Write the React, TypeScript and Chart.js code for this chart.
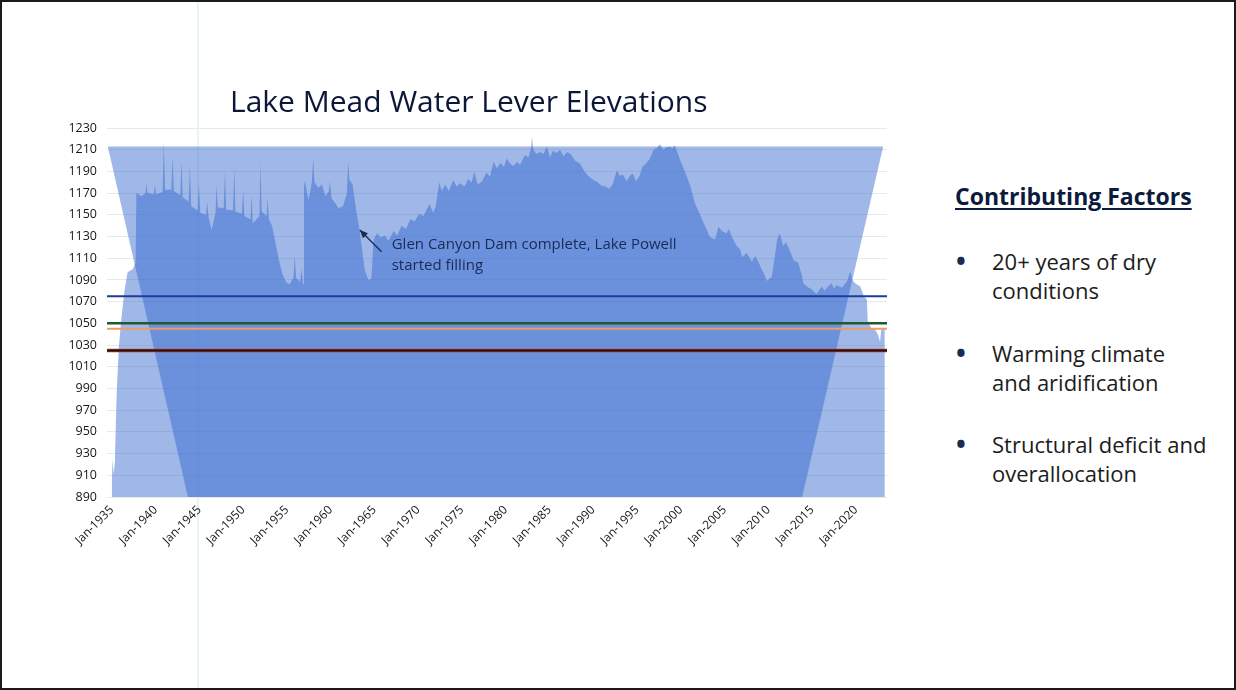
import React, { useEffect, useRef } from "react";
import { Chart, registerables } from "chart.js";

Chart.register(...registerables);

// ---- data (decimal year, elevation in feet) ----
const YEARS = [
  1935.0, 1935.08, 1935.2, 1935.35, 1935.55, 1935.8, 1936.1, 1936.45, 1936.8, 1937.4, 1937.72, 1937.8,
  1938.4, 1938.85, 1938.96, 1939.08, 1939.8, 1939.92, 1940.05, 1940.8, 1940.94, 1941.08, 1941.8, 1941.94,
  1942.08, 1942.82, 1942.96, 1943.1, 1943.78, 1943.92, 1944.06, 1944.8, 1944.95, 1945.1, 1945.76, 1945.9,
  1946.05, 1946.4, 1946.85, 1946.97, 1947.1, 1947.78, 1947.92, 1948.06, 1948.85, 1948.99, 1949.12, 1949.86,
  1950.0, 1950.14, 1950.84, 1950.97, 1951.1, 1951.86, 1951.99, 1952.12, 1952.68, 1952.8, 1952.95, 1953.3,
  1953.7, 1954.1, 1954.5, 1954.9, 1955.3, 1955.75, 1955.9, 1956.05, 1956.5, 1956.68, 1956.85, 1956.95,
  1957.08, 1957.3, 1957.5, 1957.85, 1958.0, 1958.15, 1958.6, 1959.0, 1959.4, 1959.8, 1959.92, 1960.1,
  1960.6, 1960.9, 1961.4, 1961.85, 1962.0, 1962.15, 1962.5, 1962.9, 1963.3, 1963.9, 1964.3, 1964.65,
  1964.9, 1965.3, 1965.7, 1966.2, 1966.6, 1967.2, 1967.6, 1968.1, 1968.6, 1969.1, 1969.6, 1970.1,
  1970.6, 1971.1, 1971.3, 1971.7, 1972.0, 1972.4, 1972.7, 1973.1, 1973.5, 1974.0, 1974.4, 1974.8,
  1975.3, 1975.7, 1976.1, 1976.4, 1976.8, 1977.3, 1977.8, 1978.2, 1978.6, 1979.0, 1979.4, 1979.8,
  1980.1, 1980.5, 1980.9, 1981.3, 1981.6, 1982.2, 1982.6, 1982.9, 1983.0, 1983.15, 1983.5, 1983.9,
  1984.3, 1984.7, 1985.05, 1985.4, 1985.8, 1986.2, 1986.6, 1987.0, 1987.4, 1987.9, 1988.5, 1989.0,
  1989.4, 1990.0, 1990.5, 1990.9, 1991.4, 1991.8, 1992.2, 1992.5, 1992.7, 1993.0, 1993.4, 1993.8,
  1994.2, 1994.5, 1994.9, 1995.3, 1995.6, 1996.0, 1996.4, 1996.9, 1997.3, 1997.6, 1998.0, 1998.3,
  1998.8, 1999.0, 1999.3, 1999.6, 1999.9, 2000.3, 2000.6, 2001.1, 2001.6, 2002.2, 2002.8, 2003.3,
  2003.9, 2004.3, 2004.7, 2005.2, 2005.5, 2005.8, 2006.4, 2006.8, 2007.0, 2007.5, 2008.1, 2008.5,
  2008.9, 2009.2, 2009.6, 2009.8, 2010.4, 2010.7, 2011.0, 2011.3, 2011.7, 2012.0, 2012.3, 2012.9,
  2013.4, 2013.8, 2014.0, 2014.4, 2015.0, 2015.5, 2016.1, 2016.4, 2016.7, 2017.2, 2017.5, 2017.8,
  2018.4, 2019.0, 2019.35, 2019.6, 2019.9, 2020.5, 2020.9, 2021.25, 2021.35, 2021.8, 2022.2, 2022.5,
  2022.75, 2022.9, 2023.1, 2023.3,
];
const ELEVATION = [
  905, 925, 911, 922, 985, 1028, 1055, 1080, 1097, 1100, 1106, 1170,
  1167, 1170, 1179, 1170, 1169, 1178, 1169, 1171, 1218, 1173, 1173, 1204,
  1172, 1168, 1199, 1166, 1162, 1196, 1158, 1154, 1179, 1152, 1150, 1162,
  1148, 1136, 1152, 1178, 1157, 1156, 1190, 1155, 1154, 1193, 1153, 1151,
  1173, 1149, 1146, 1168, 1142, 1149, 1198, 1153, 1149, 1165, 1146, 1140,
  1124, 1108, 1095, 1088, 1086, 1092, 1112, 1092, 1088, 1100, 1086, 1175,
  1182, 1170, 1164, 1180, 1202, 1180, 1175, 1178, 1167, 1172, 1181, 1165,
  1160, 1156, 1158, 1170, 1199, 1182, 1178, 1155, 1136, 1099, 1090, 1091,
  1127, 1133, 1129, 1131, 1126, 1135, 1131, 1140, 1137, 1146, 1144, 1151,
  1149, 1157, 1160, 1152, 1158, 1180, 1172, 1178, 1172, 1182, 1176, 1179,
  1176, 1183, 1180, 1190, 1178, 1181, 1189, 1185, 1199, 1193, 1198, 1194,
  1202, 1197, 1195, 1199, 1196, 1205, 1203, 1212, 1222, 1210, 1206, 1208,
  1206, 1213, 1203, 1209, 1207, 1210, 1204, 1208, 1206, 1200, 1197, 1190,
  1186, 1182, 1180, 1177, 1176, 1174, 1178, 1186, 1191, 1186, 1187, 1181,
  1186, 1188, 1181, 1186, 1194, 1197, 1201, 1210, 1212, 1215, 1210, 1212,
  1213, 1211, 1214, 1208, 1201, 1193, 1187, 1176, 1161, 1150, 1139, 1130,
  1127, 1139, 1135, 1133, 1137, 1130, 1121, 1118, 1111, 1115, 1107, 1112,
  1106, 1100, 1094, 1089, 1093, 1110, 1127, 1133, 1121, 1125, 1120, 1108,
  1106, 1095, 1087, 1084, 1081, 1077, 1084, 1080, 1083, 1087, 1082, 1085,
  1083, 1089, 1098, 1090, 1087, 1084, 1075, 1072, 1052, 1045, 1044, 1040,
  1033, 1044, 1045, 1046,
];

// pale backdrop shape drawn behind the series in the original slide
const BACKDROP_YEARS = [1934.54, 2023.11, 2013.86, 1943.69];
const BACKDROP_ELEV = [1213, 1213, 890, 890];

// reference levels (ft) – listed top-most drawing first
const REF_LEVELS = [1025, 1025, 1045, 1050, 1075];
const REF_COLORS = ["#151515", "#c8321f", "#f09a66", "#1f5a30", "#1f3d98"];
const REF_WIDTHS = [2, 3.5, 2, 2.5, 2];

const X_TICKS = [1935, 1940, 1945, 1950, 1955, 1960, 1965, 1970, 1975, 1980, 1985, 1990, 1995, 2000, 2005, 2010, 2015, 2020];
const X_MIN = 1934.45;
const X_MAX = 2023.55;
const Y_MIN = 890;
const Y_MAX = 1230;
const Y_STEP = 20;

const NOTE_LINES = ["Glen Canyon Dam complete, Lake Powell", "started filling"];
const NOTE_TIP = [1963.33, 1136];
const NOTE_TAIL = [1965.81, 1116];
const NOTE_TEXT = [1966.97, 1118.5];

const FACTORS = [
  ["20+ years of dry", "conditions"],
  ["Warming climate", "and aridification"],
  ["Structural deficit and", "overallocation"],
];

const FILL = "rgba(45,100,205,0.46)";
const FONT = "'Open Sans', sans-serif";

const notePlugin = {
  id: "glenCanyonNote",
  afterDatasetsDraw(chart: any) {
    const { ctx } = chart;
    const xs = chart.scales.x;
    const ys = chart.scales.y;
    const tx = xs.getPixelForValue(NOTE_TIP[0]);
    const ty = ys.getPixelForValue(NOTE_TIP[1]);
    const sx = xs.getPixelForValue(NOTE_TAIL[0]);
    const sy = ys.getPixelForValue(NOTE_TAIL[1]);
    ctx.save();
    ctx.strokeStyle = "#1b2a55";
    ctx.fillStyle = "#1b2a55";
    ctx.lineWidth = 1.3;
    ctx.beginPath();
    ctx.moveTo(sx, sy);
    ctx.lineTo(tx, ty);
    ctx.stroke();
    const ang = Math.atan2(ty - sy, tx - sx);
    const hl = 8;
    const hw = 3.5;
    ctx.beginPath();
    ctx.moveTo(tx, ty);
    ctx.lineTo(tx - hl * Math.cos(ang) + hw * Math.sin(ang), ty - hl * Math.sin(ang) - hw * Math.cos(ang));
    ctx.lineTo(tx - hl * Math.cos(ang) - hw * Math.sin(ang), ty - hl * Math.sin(ang) + hw * Math.cos(ang));
    ctx.closePath();
    ctx.fill();
    ctx.font = `15px ${FONT}`;
    ctx.textAlign = "left";
    ctx.textBaseline = "alphabetic";
    const lx = xs.getPixelForValue(NOTE_TEXT[0]);
    const ly = ys.getPixelForValue(NOTE_TEXT[1]);
    NOTE_LINES.forEach((line, i) => ctx.fillText(line, lx, ly + i * 21));
    ctx.restore();
  },
};

function LakeMeadChart() {
  const ref = useRef<HTMLCanvasElement | null>(null);
  useEffect(() => {
    if (!ref.current) return;
    const refSets = REF_LEVELS.map((lvl, i) => ({
      data: [
        { x: X_MIN, y: lvl },
        { x: X_MAX, y: lvl },
      ],
      borderColor: REF_COLORS[i],
      borderWidth: REF_WIDTHS[i],
      pointRadius: 0,
      fill: false,
    }));
    const chart = new Chart(ref.current, {
      type: "line",
      data: {
        datasets: [
          ...refSets,
          {
            data: YEARS.map((x, i) => ({ x, y: ELEVATION[i] })),
            borderColor: "rgba(0,0,0,0)",
            borderWidth: 0,
            backgroundColor: FILL,
            pointRadius: 0,
            tension: 0,
            fill: "start",
          },
          {
            data: BACKDROP_YEARS.map((x, i) => ({ x, y: BACKDROP_ELEV[i] })),
            borderColor: "rgba(0,0,0,0)",
            borderWidth: 0,
            backgroundColor: FILL,
            pointRadius: 0,
            tension: 0,
            fill: "shape",
          },
        ] as any,
      },
      options: {
        animation: false,
        responsive: false,
        events: [],
        layout: { padding: { left: 0, top: 128, right: 13, bottom: 33 } },
        plugins: { legend: { display: false }, tooltip: { enabled: false } },
        scales: {
          x: {
            type: "linear",
            min: X_MIN,
            max: X_MAX,
            grid: { display: false, drawTicks: false },
            border: { display: false },
            afterBuildTicks: (s: any) => {
              s.ticks = X_TICKS.map((v) => ({ value: v }));
            },
            afterFit: (s: any) => {
              s.height = 70;
            },
            ticks: {
              autoSkip: false,
              minRotation: 45,
              maxRotation: 45,
              padding: 6,
              color: "#161616",
              font: { family: FONT, size: 12 },
              callback: (v: any) => "Jan-" + v,
            },
          },
          y: {
            type: "linear",
            min: Y_MIN,
            max: Y_MAX,
            grid: { color: "#e9e9e9", lineWidth: 1, drawTicks: false },
            border: { display: false },
            afterFit: (s: any) => {
              s.width = 107;
            },
            ticks: {
              stepSize: Y_STEP,
              autoSkip: false,
              padding: 10,
              color: "#161616",
              font: { family: FONT, size: 12.5 },
              callback: (v: any) => String(v),
            },
          },
        },
      } as any,
      plugins: [notePlugin],
    });
    return () => chart.destroy();
  }, []);
  return (
    <canvas
      ref={ref}
      width={900}
      height={600}
      style={{ position: "absolute", left: 0, top: 0, width: 900, height: 600 }}
    />
  );
}

export default function App() {
  return (
    <div style={{ position: "relative", width: 1236, height: 690, background: "#fff", overflow: "hidden", fontFamily: FONT }}>
      <style>{"body{margin:0;background:#fff}"}</style>
      <div style={{ position: "absolute", left: 197, top: 0, width: 2, height: 690, background: "rgba(210,240,247,0.6)" }} />
      <LakeMeadChart />
      <div
        style={{
          position: "absolute",
          left: 230,
          top: 83,
          fontSize: 30,
          lineHeight: "36px",
          color: "#0b1736",
          whiteSpace: "nowrap",
        }}
      >
        Lake Mead Water Lever Elevations
      </div>
      <div
        style={{
          position: "absolute",
          left: 955,
          top: 181,
          fontSize: 23,
          lineHeight: "30px",
          fontWeight: 700,
          color: "#0c1a3c",
          textDecoration: "underline",
          textDecorationThickness: 2,
          textUnderlineOffset: 3,
          whiteSpace: "nowrap",
        }}
      >
        Contributing Factors
      </div>
      {FACTORS.map((lines, i) => (
        <div key={i} style={{ position: "absolute", left: 960, top: 247 + i * 91.5, fontSize: 22, lineHeight: "29px", color: "#1c1c1c" }}>
          <span style={{ position: "absolute", left: -4, top: 0, color: "#1b2a55", fontSize: 26, fontWeight: 700 }}>•</span>
          <div style={{ marginLeft: 32, whiteSpace: "nowrap" }}>
            {lines.map((l, j) => (
              <div key={j}>{l}</div>
            ))}
          </div>
        </div>
      ))}
      <div
        style={{
          position: "absolute",
          left: 0,
          top: 0,
          width: 1236,
          height: 690,
          boxSizing: "border-box",
          border: "2px solid #1a1a1a",
          pointerEvents: "none",
        }}
      />
    </div>
  );
}
